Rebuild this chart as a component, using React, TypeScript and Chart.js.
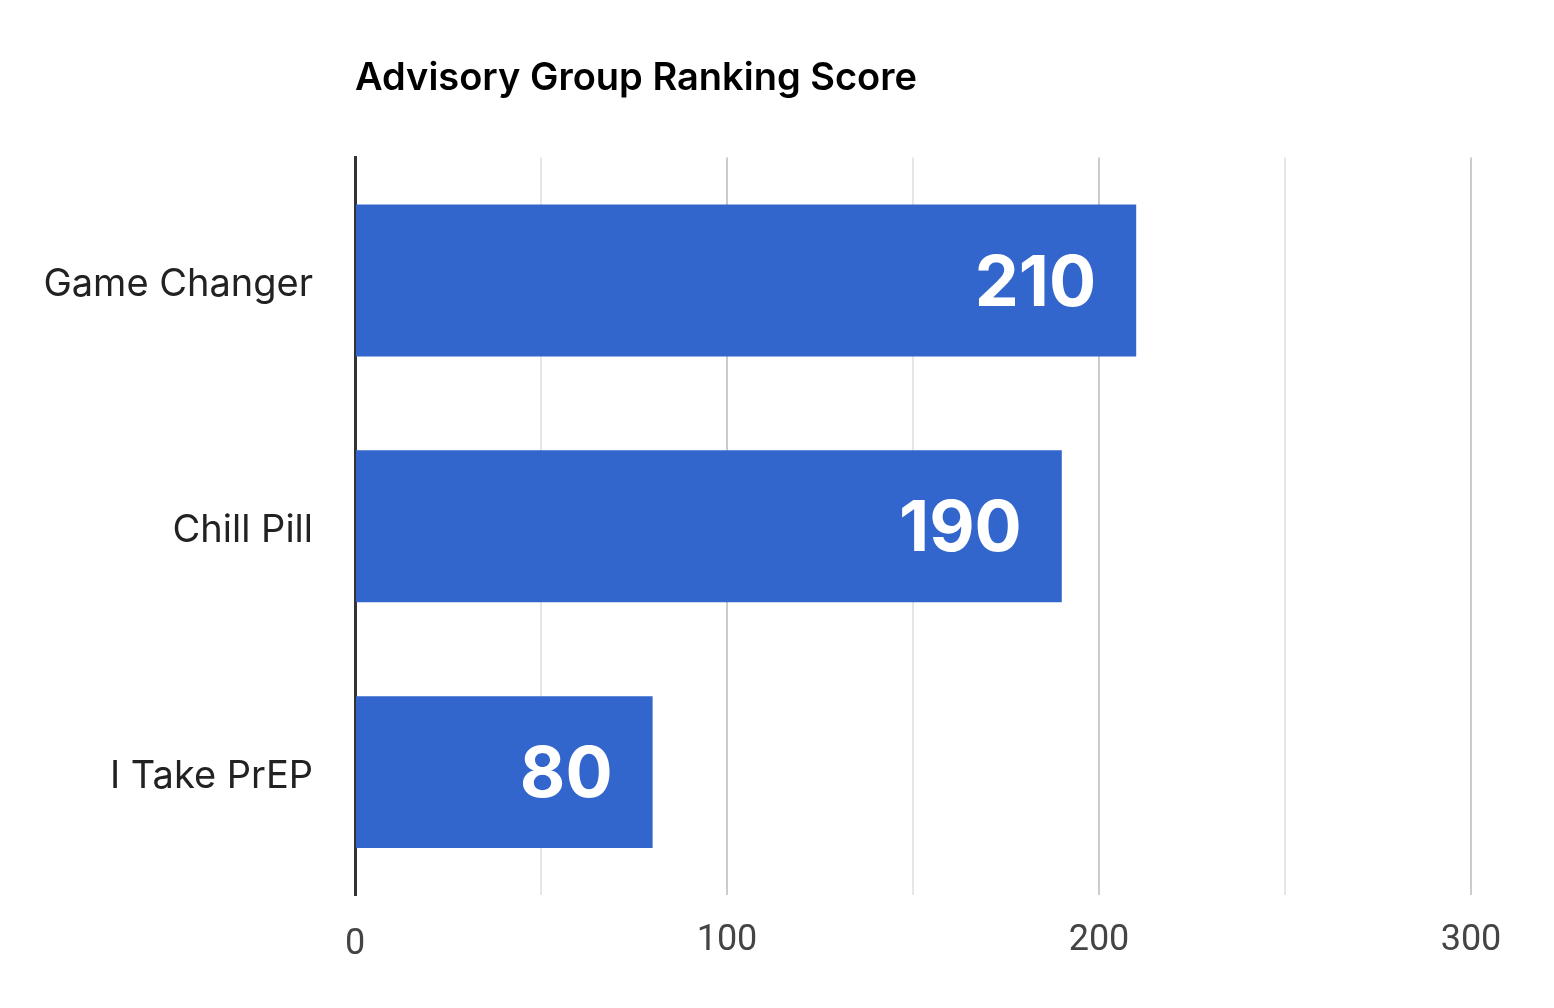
import React, { useEffect, useRef } from "react";
import { Chart, registerables } from "chart.js";

Chart.register(...registerables);

const categories = ["Game Changer", "Chill Pill", "I Take PrEP"];
const scores = [210, 190, 80];
const xTicks = [0, 100, 200, 300];

const barLabels = {
    id: "barLabels",
    afterDatasetsDraw(chart: any) {
        const ctx = chart.ctx;
        const meta = chart.getDatasetMeta(0);
        ctx.save();
        ctx.fillStyle = "#ffffff";
        ctx.font = "700 70px Inter";
        ctx.textAlign = "right";
        ctx.textBaseline = "middle";
        meta.data.forEach((bar: any, i: number) => {
            ctx.fillText(String(scores[i]), bar.x - 40, bar.y + 4);
        });
        ctx.restore();
    }
};

const App: React.FC = () => {
    const chartRef = useRef<HTMLCanvasElement | null>(null);
    const chartInstance = useRef<Chart<"bar"> | null>(null);

    useEffect(() => {
        document.body.style.margin = "0";
        if (chartRef.current !== null) {
            const ctx = chartRef.current.getContext("2d");
            if (ctx !== null) {
                chartInstance.current = new Chart(ctx, {
                    type: "bar",
                    data: {
                        labels: categories,
                        datasets: [{
                            data: scores,
                            backgroundColor: "#3366cc",
                            barPercentage: 0.618,
                            categoryPercentage: 1
                        }]
                    },
                    options: {
                        indexAxis: "y",
                        animation: false,
                        responsive: true,
                        maintainAspectRatio: false,
                        layout: { padding: { left: 0, right: 83, top: 0, bottom: 0 } },
                        plugins: {
                            legend: { display: false },
                            tooltip: { enabled: false },
                            title: {
                                display: true,
                                text: "Advisory Group Ranking Score",
                                align: "start",
                                fullSize: false,
                                color: "#000000",
                                font: { family: "Inter", size: 38, weight: 600 },
                                padding: { top: 56, bottom: 56 }
                            }
                        },
                        scales: {
                            x: {
                                min: 0,
                                max: 300,
                                afterBuildTicks: (s: any) => {
                                    const out: any[] = [];
                                    for (let v = 0; v <= 300; v += 50) out.push({ value: v });
                                    s.ticks = out;
                                },
                                afterFit: (s: any) => { s.height = 113; },
                                border: { display: false },
                                grid: {
                                    drawTicks: false,
                                    lineWidth: 2,
                                    color: (c: any) => c.tick && c.tick.value === 0 ? "rgba(0,0,0,0)"
                                        : (xTicks.includes(c.tick.value) ? "#cccccc" : "#e6e6e6")
                                },
                                ticks: {
                                    padding: 24,
                                    color: "#444444",
                                    autoSkip: false,
                                    maxRotation: 0,
                                    callback: (v: any) => xTicks.includes(Number(v)) ? String(v) : "",
                                    font: (c: any) => ({
                                        family: "Roboto",
                                        size: 36,
                                        lineHeight: c.index === 0 ? 1.42 : 1.2
                                    })
                                }
                            },
                            y: {
                                afterFit: (s: any) => { s.width = 355; },
                                border: { display: true, color: "#333333", width: 3 },
                                grid: { display: false, drawTicks: false },
                                ticks: {
                                    padding: 42,
                                    labelOffset: 4,
                                    color: "#222222",
                                    font: { family: "Inter", size: 38 }
                                }
                            }
                        }
                    },
                    plugins: [barLabels]
                });
            }
        }

        return () => {
            if (chartInstance.current !== null) {
                chartInstance.current.destroy();
            }
        };
    }, []);

    return (
        <div style={{ width: 1554, height: 1008, position: "relative" }}>
            <canvas ref={chartRef}></canvas>
        </div>
    );
};

export default App;
